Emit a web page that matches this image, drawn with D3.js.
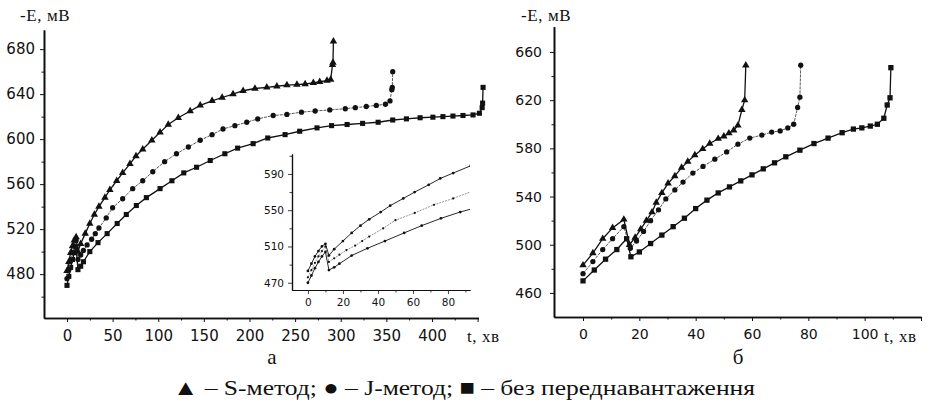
<!DOCTYPE html>
<html><head><meta charset="utf-8">
<script src="https://cdn.jsdelivr.net/npm/d3@7/dist/d3.min.js"></script>
<style>
html,body{margin:0;padding:0;background:#fff;}
svg{display:block;}
.tick text{font-family:"DejaVu Sans",sans-serif;fill:#111;}
.serif{font-family:"Liberation Serif","Times New Roman",serif;fill:#111;}
</style></head><body>
<svg id="c" width="931" height="403"></svg>
<script>
// ---- Data: panel (а) ----
const leftS_t = [0,2,4,6,8,10,12,15,20,25,30,35,41.6,47,54.5,61,69,75.6,83,93,102,111,122,135,146,159,170,182,193,206,219,230,241,252,261,270,277,285,289,291,291.5,292];
const leftS_E = [483,491,499,505,510,513,500,507,516,525,533,540,548,555,563,570,578,585,591,599,606,613,619,625,630,634,637,640,643,645,646,647,648,648.5,649,650,651,652,653,666,668,687];
const leftJ_t = [0,2,4,6,8,10,12,15,18,22,27,31,35,43,50,61,72,83,94,107,120,133,146,159,171,184,197,209,226,241,257,272,288,305,316,328,339,349,354,356,356.5,357];
const leftJ_E = [476,484,492,499,505,510,493,497,501,506,511,516,521,530,539,547,556,563,571,580,587,593,599,604,609,612,615,618,621,622,624,625,626,627,628,629,630,631,634,644,646,660];
const leftN_t = [0,2,4,6,8,10,12,15,18,25,34,44,55,65,76,87,102,115,128,142,157,173,187,204,220,239,255,274,290,307,324,341,357,372,387,401,412,423,434,445,452,455,455.5,456];
const leftN_E = [470,478,486,493,499,504,484,487,491,500,508,516,525,533,541,548,556,563,570,575,581,587,592,596,601,604,607,610,612,613,614,615,617,618,619,619.5,620,620.5,621,621.5,623,628,632,646];
// ---- Data: panel (б) ----
const rightS_t = [0,3.5,7,10.5,14.5,16.5,18.5,20.5,22.5,24.5,26,28,30.2,32.6,35,37.2,39.7,42.5,45,48,50,51.8,53.5,55,56.4,57.4,57.8];
const rightS_E = [483,493,505,514,521,500,506,513,520,527,535,543,551,557,564,569,574.5,579.5,584,588,590,592.6,595,599,612,620,649];
const rightJ_t = [0,3.5,7,10.5,14.5,16.8,19,21.5,24,26.8,29.4,32.6,35.5,39,42.6,46.8,51,55,59.2,63.5,67,70,72.7,74.8,76.2,77,77.3];
const rightJ_E = [476,486,496,505,515,497,503,511,520,529,538,545.5,552,559.5,565,571,577,583.5,588.5,591,593.5,594.5,597,600,614,622.5,649];
const rightN_t = [0,4,8,12,15.5,17,20,24,28,32,36,40,44,48,52,56,60,64,68,72,77,82,87,92,96,99,102,104.5,106.8,108,109,109.3];
const rightN_E = [470,479,488,496,505,490,494,501,508,515,522,530,537,543,548,553,558,563,568,573,578.5,584,588.5,593,596,597,598.5,600,605,616,622,647];
// ---- Tick labels ----
const leftXTicks = [0,50,100,150,200,250,300,350,400];
const leftYTicks = [480,520,560,600,640,680];
const rightXTicks = [0,20,40,60,80,100];
const rightYTicks = [460,500,540,580,620,660];
const insetXTicks = [0,20,40,60,80];
const insetYTicks = [470,510,550,590];
const insetMaxT = 93;
const yLabel = "-E, мВ";
const xLabel = "t, хв";
const legendText = "▲ – S-метод; ● – J-метод; ■ – без переднавантаження";

const svg = d3.select("#c");
const zip = (t,e) => t.map((d,i)=>[d,e[i]]);

function axes(g, x, y, o) {
  const xa = g.append("g").attr("transform",`translate(0,${o.y0})`)
    .call(d3.axisBottom(x).tickValues(o.xt).tickSize(4).tickSizeOuter(0).tickPadding(o.xpad));
  xa.selectAll("text").style("font-size",o.fs+"px");
  g.append("g").attr("transform",`translate(0,${o.y0})`)
    .call(d3.axisBottom(x).tickValues(o.xminor).tickSize(2.5).tickFormat("").tickSizeOuter(0));
  const ya = g.append("g").attr("transform",`translate(${o.x0},0)`)
    .call(d3.axisLeft(y).tickValues(o.yt).tickSize(4).tickSizeOuter(0).tickPadding(o.ypad));
  ya.selectAll("text").style("font-size",o.fs+"px");
  g.append("g").attr("transform",`translate(${o.x0},0)`)
    .call(d3.axisLeft(y).tickValues(o.yminor).tickSize(2.5).tickFormat("").tickSizeOuter(0));
  g.selectAll(".domain").attr("stroke","#111").attr("stroke-width",o.sw);
  g.selectAll(".tick line").attr("stroke","#111").attr("stroke-width",1);
}

function series(g, x, y, data, sym, size, lw, col, dash) {
  const line = d3.line().x(d=>x(d[0])).y(d=>y(d[1]));
  g.append("path").attr("d",line(data)).attr("fill","none")
    .attr("stroke",col).attr("stroke-width",lw).attr("stroke-dasharray",dash||null);
  g.selectAll(null).data(data).enter().append("path")
    .attr("d",d3.symbol().type(sym).size(size))
    .attr("transform",d=>`translate(${x(d[0])},${y(d[1])})`)
    .attr("fill","#111");
}

// ---- Panel (а) ----
{
  const x = d3.scaleLinear().domain([-25.2,451]).range([44,478.5]);
  const y = d3.scaleLinear().domain([441,697]).range([318,30]);
  const g = svg.append("g");
  axes(g,x,y,{y0:318,x0:44,xt:leftXTicks.concat([450]),xminor:d3.range(25,450,50),
    yt:leftYTicks,yminor:[460,500,540,580,620,660],fs:15,xpad:8,ypad:5,sw:1.6});
  g.selectAll(".tick text").filter(d=>d===450).text("");
  series(g,x,y,zip(leftN_t,leftN_E),d3.symbolSquare,26,1.3,"#111");
  series(g,x,y,zip(leftJ_t,leftJ_E),d3.symbolCircle,22,0.9,"#444","3,1");
  series(g,x,y,zip(leftS_t,leftS_E),d3.symbolTriangle,24,1.3,"#111");
  g.append("text").attr("class","serif").attr("x",20).attr("y",21).style("font-size","17px")
    .style("letter-spacing","0.6px").text(yLabel);
  g.append("text").attr("class","serif").attr("x",467).attr("y",342).style("font-size","17px")
    .style("letter-spacing","0.6px").text(xLabel);
  g.append("text").attr("class","serif").attr("x",272).attr("y",364).attr("text-anchor","middle")
    .style("font-size","21px").text("а");

  // inset
  const xi = d3.scaleLinear().domain([-9.1,92.6]).range([292,470]);
  const yi = d3.scaleLinear().domain([462,612]).range([290,154]);
  const gi = svg.append("g");
  svg.append("defs").append("clipPath").attr("id","insetClip")
    .append("rect").attr("x",292).attr("y",150).attr("width",178).attr("height",141);
  axes(gi,xi,yi,{y0:290,x0:292,xt:insetXTicks,xminor:[10,30,50,70,90],
    yt:insetYTicks,yminor:[490,530,570,610],fs:10.5,xpad:5,ypad:4,sw:1.2});
  gi.selectAll(".tick line").attr("stroke-width",0.8);
  const gc = gi.append("g").attr("clip-path","url(#insetClip)");
  // keep points up to and including the first one past the inset edge, clipped at the frame
  const f = (t,e)=>{ const a = zip(t,e); const k = a.findIndex(d=>d[0]>insetMaxT); return a.slice(0, k+1); };
  series(gc,xi,yi,f(leftN_t,leftN_E),d3.symbolCircle,6,0.9,"#111");
  series(gc,xi,yi,f(leftJ_t,leftJ_E),d3.symbolCircle,4,0.7,"#666","2,1");
  series(gc,xi,yi,f(leftS_t,leftS_E),d3.symbolCircle,6,0.9,"#111");
}

// ---- Panel (б) ----
{
  const x = d3.scaleLinear().domain([-10.3,120]).range([554,921]);
  const y = d3.scaleLinear().domain([440,681]).range([317,26.7]);
  const g = svg.append("g");
  axes(g,x,y,{y0:317,x0:554,xt:rightXTicks.concat([120]),xminor:d3.range(10,120,20),
    yt:rightYTicks,yminor:[480,520,560,600,640],fs:14,xpad:8,ypad:8,sw:1.6});
  g.selectAll(".tick text").filter(d=>d===120).text("");
  series(g,x,y,zip(rightN_t,rightN_E),d3.symbolSquare,28,1.3,"#111");
  series(g,x,y,zip(rightJ_t,rightJ_E),d3.symbolCircle,22,0.9,"#444","3,1");
  series(g,x,y,zip(rightS_t,rightS_E),d3.symbolTriangle,24,1.3,"#111");
  g.append("text").attr("class","serif").attr("x",521).attr("y",21).style("font-size","17px")
    .style("letter-spacing","0.6px").text(yLabel);
  g.append("text").attr("class","serif").attr("x",884).attr("y",342).style("font-size","17px")
    .style("letter-spacing","0.6px").text(xLabel);
  g.append("text").attr("class","serif").attr("x",738).attr("y",364).attr("text-anchor","middle")
    .style("font-size","21px").text("б");
}

svg.append("text").attr("class","serif").attr("x",464).attr("y",395).attr("text-anchor","middle")
  .attr("textLength",582).attr("lengthAdjust","spacingAndGlyphs")
  .style("font-size","22px").text(legendText);
</script>
</body></html>
